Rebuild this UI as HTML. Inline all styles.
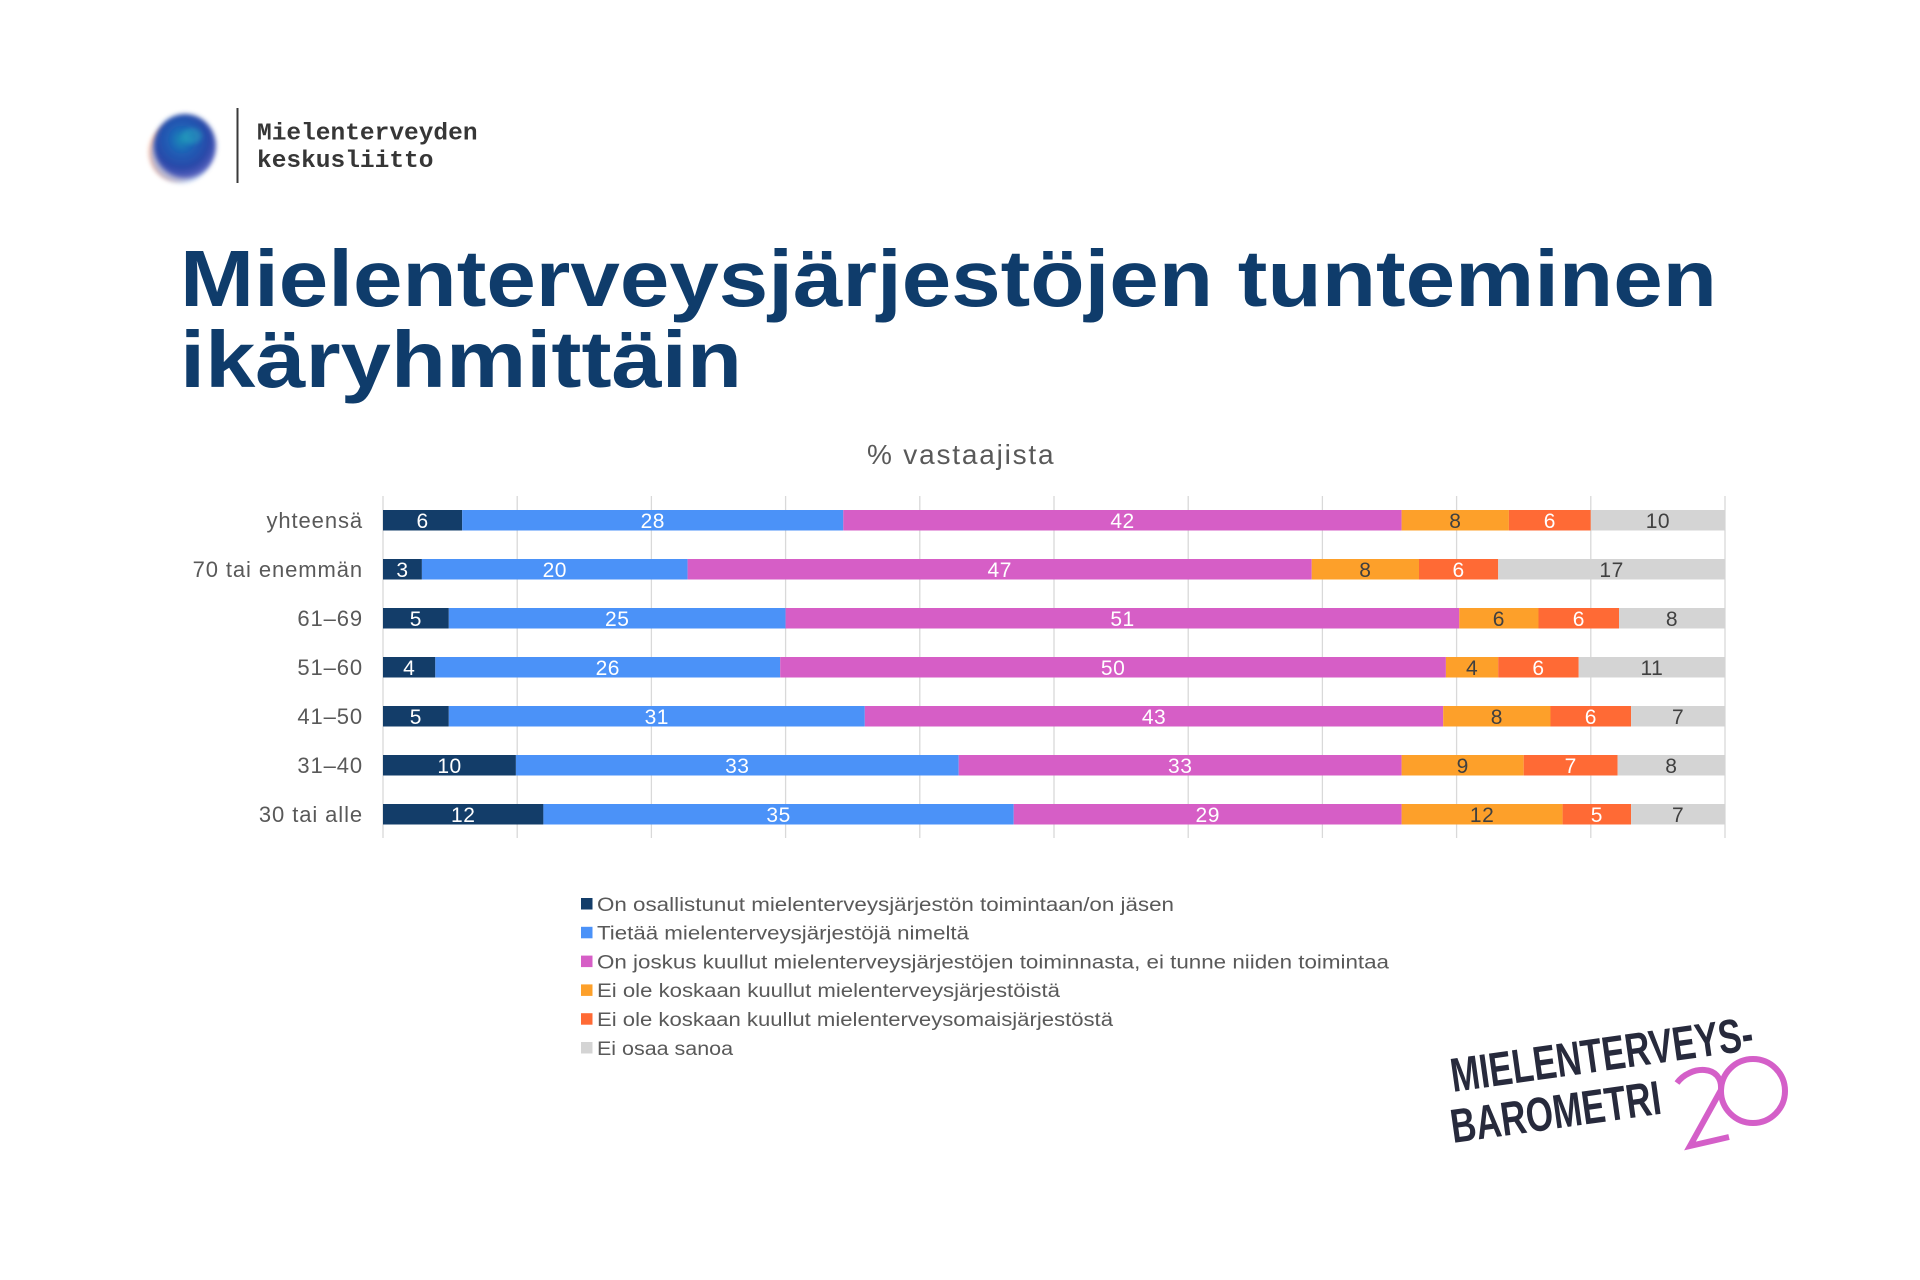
<!DOCTYPE html>
<html>
<head>
<meta charset="utf-8">
<style>
  html, body { margin: 0; padding: 0; background: #ffffff; }
  body { width: 1920px; height: 1280px; overflow: hidden; position: relative; }
  svg { position: absolute; left: 0; top: 0; }
</style>
</head>
<body>
<svg width="1920" height="1280" viewBox="0 0 1920 1280" xmlns="http://www.w3.org/2000/svg">
  <defs>
    <radialGradient id="orb" cx="45%" cy="40%" r="60%">
      <stop offset="0%" stop-color="#1d8fb8"/>
      <stop offset="35%" stop-color="#1f5fb6"/>
      <stop offset="75%" stop-color="#2a48a8"/>
      <stop offset="100%" stop-color="#5a63c0"/>
    </radialGradient>
    <filter id="soft" x="-30%" y="-30%" width="160%" height="160%">
      <feGaussianBlur stdDeviation="2.5"/>
    </filter>
  </defs>

  <!-- Top-left logo -->
  <ellipse cx="176" cy="152" rx="27" ry="29" fill="#f3a07f" opacity="0.75" filter="url(#soft)"/>
  <ellipse cx="181" cy="154" rx="30" ry="29" fill="#9bb6e6" opacity="0.7" filter="url(#soft)"/>
  <ellipse cx="185" cy="146" rx="31" ry="32" fill="url(#orb)" filter="url(#soft)"/>
  <ellipse cx="192" cy="136" rx="10" ry="8" fill="#2bb0c0" opacity="0.45" filter="url(#soft)"/>
  <rect x="236.5" y="108" width="2" height="75" fill="#3a3a3a"/>
  <text x="257" y="139.5" font-family="Liberation Mono, monospace" font-weight="bold" font-size="24.5" fill="#363636">Mielenterveyden</text>
  <text x="257" y="166.8" font-family="Liberation Mono, monospace" font-weight="bold" font-size="24.5" fill="#363636">keskusliitto</text>

  <!-- Title -->
  <text x="180" y="306" font-family="Liberation Sans, sans-serif" font-weight="bold" font-size="80" fill="#0f3c6b" textLength="1537" lengthAdjust="spacingAndGlyphs">Mielenterveysjärjestöjen tunteminen</text>
  <text x="180" y="387" font-family="Liberation Sans, sans-serif" font-weight="bold" font-size="80" fill="#0f3c6b" textLength="562" lengthAdjust="spacingAndGlyphs">ikäryhmittäin</text>

  <!-- Chart title -->
  <text x="867" y="464" font-family="Liberation Sans, sans-serif" font-size="28" fill="#595959" letter-spacing="1.8">% vastaajista</text>

  <!-- Gridlines -->
  <g stroke="#d9d9d9" stroke-width="1.3">
    <line x1="383" y1="496" x2="383" y2="838"/>
    <line x1="517.2" y1="496" x2="517.2" y2="838"/>
    <line x1="651.4" y1="496" x2="651.4" y2="838"/>
    <line x1="785.6" y1="496" x2="785.6" y2="838"/>
    <line x1="919.8" y1="496" x2="919.8" y2="838"/>
    <line x1="1054" y1="496" x2="1054" y2="838"/>
    <line x1="1188.2" y1="496" x2="1188.2" y2="838"/>
    <line x1="1322.4" y1="496" x2="1322.4" y2="838"/>
    <line x1="1456.6" y1="496" x2="1456.6" y2="838"/>
    <line x1="1590.8" y1="496" x2="1590.8" y2="838"/>
    <line x1="1725" y1="496" x2="1725" y2="838"/>
  </g>

  <!-- Category labels -->
  <g font-family="Liberation Sans, sans-serif" font-size="22" fill="#595959" text-anchor="end" letter-spacing="0.9">
    <text x="363" y="528">yhteensä</text>
    <text x="363" y="577">70 tai enemmän</text>
    <text x="363" y="626">61–69</text>
    <text x="363" y="675">51–60</text>
    <text x="363" y="724">41–50</text>
    <text x="363" y="773">31–40</text>
    <text x="363" y="822">30 tai alle</text>
  </g>

  <!-- Bars -->
  <g>
    <rect x="383" y="510" width="79.2" height="20.5" fill="#133d69"/>
    <rect x="462.2" y="510" width="381.1" height="20.5" fill="#4b92f8"/>
    <rect x="843.3" y="510" width="558.3" height="20.5" fill="#d65ec6"/>
    <rect x="1401.6" y="510" width="107.3" height="20.5" fill="#fda02a"/>
    <rect x="1508.9" y="510" width="81.9" height="20.5" fill="#ff6a35"/>
    <rect x="1590.8" y="510" width="134.2" height="20.5" fill="#d4d4d4"/>

    <rect x="383" y="559" width="38.9" height="20.5" fill="#133d69"/>
    <rect x="421.9" y="559" width="265.7" height="20.5" fill="#4b92f8"/>
    <rect x="687.6" y="559" width="624.1" height="20.5" fill="#d65ec6"/>
    <rect x="1311.7" y="559" width="107.3" height="20.5" fill="#fda02a"/>
    <rect x="1419" y="559" width="79.2" height="20.5" fill="#ff6a35"/>
    <rect x="1498.2" y="559" width="226.8" height="20.5" fill="#d4d4d4"/>

    <rect x="383" y="608" width="65.8" height="20.5" fill="#133d69"/>
    <rect x="448.8" y="608" width="336.8" height="20.5" fill="#4b92f8"/>
    <rect x="785.6" y="608" width="673.7" height="20.5" fill="#d65ec6"/>
    <rect x="1459.3" y="608" width="79.2" height="20.5" fill="#fda02a"/>
    <rect x="1538.5" y="608" width="80.5" height="20.5" fill="#ff6a35"/>
    <rect x="1619" y="608" width="106" height="20.5" fill="#d4d4d4"/>

    <rect x="383" y="657" width="52.3" height="20.5" fill="#133d69"/>
    <rect x="435.3" y="657" width="344.9" height="20.5" fill="#4b92f8"/>
    <rect x="780.2" y="657" width="665.7" height="20.5" fill="#d65ec6"/>
    <rect x="1445.9" y="657" width="52.3" height="20.5" fill="#fda02a"/>
    <rect x="1498.2" y="657" width="80.5" height="20.5" fill="#ff6a35"/>
    <rect x="1578.7" y="657" width="146.3" height="20.5" fill="#d4d4d4"/>

    <rect x="383" y="706" width="65.8" height="20.5" fill="#133d69"/>
    <rect x="448.8" y="706" width="416" height="20.5" fill="#4b92f8"/>
    <rect x="864.8" y="706" width="578.4" height="20.5" fill="#d65ec6"/>
    <rect x="1443.2" y="706" width="107.3" height="20.5" fill="#fda02a"/>
    <rect x="1550.5" y="706" width="80.6" height="20.5" fill="#ff6a35"/>
    <rect x="1631.1" y="706" width="93.9" height="20.5" fill="#d4d4d4"/>

    <rect x="383" y="755" width="132.9" height="20.5" fill="#133d69"/>
    <rect x="515.9" y="755" width="442.8" height="20.5" fill="#4b92f8"/>
    <rect x="958.7" y="755" width="442.9" height="20.5" fill="#d65ec6"/>
    <rect x="1401.6" y="755" width="122.1" height="20.5" fill="#fda02a"/>
    <rect x="1523.7" y="755" width="93.9" height="20.5" fill="#ff6a35"/>
    <rect x="1617.6" y="755" width="107.4" height="20.5" fill="#d4d4d4"/>

    <rect x="383" y="804" width="160.4" height="20.5" fill="#133d69"/>
    <rect x="543.4" y="804" width="470.3" height="20.5" fill="#4b92f8"/>
    <rect x="1013.7" y="804" width="387.9" height="20.5" fill="#d65ec6"/>
    <rect x="1401.6" y="804" width="161" height="20.5" fill="#fda02a"/>
    <rect x="1562.6" y="804" width="68.5" height="20.5" fill="#ff6a35"/>
    <rect x="1631.1" y="804" width="93.9" height="20.5" fill="#d4d4d4"/>
  </g>

  <!-- Data labels -->
  <g font-family="Liberation Sans, sans-serif" font-size="21" text-anchor="middle" letter-spacing="0.5">
    <text x="422.6" y="528" fill="#ffffff">6</text>
    <text x="652.8" y="528" fill="#ffffff">28</text>
    <text x="1122.5" y="528" fill="#ffffff">42</text>
    <text x="1455.3" y="528" fill="#404040">8</text>
    <text x="1549.9" y="528" fill="#ffffff">6</text>
    <text x="1657.9" y="528" fill="#404040">10</text>

    <text x="402.5" y="577" fill="#ffffff">3</text>
    <text x="554.8" y="577" fill="#ffffff">20</text>
    <text x="999.7" y="577" fill="#ffffff">47</text>
    <text x="1365.4" y="577" fill="#404040">8</text>
    <text x="1458.6" y="577" fill="#ffffff">6</text>
    <text x="1611.6" y="577" fill="#404040">17</text>

    <text x="415.9" y="626" fill="#ffffff">5</text>
    <text x="617.2" y="626" fill="#ffffff">25</text>
    <text x="1122.5" y="626" fill="#ffffff">51</text>
    <text x="1498.9" y="626" fill="#404040">6</text>
    <text x="1578.8" y="626" fill="#ffffff">6</text>
    <text x="1672" y="626" fill="#404040">8</text>

    <text x="409.2" y="675" fill="#ffffff">4</text>
    <text x="607.8" y="675" fill="#ffffff">26</text>
    <text x="1113.1" y="675" fill="#ffffff">50</text>
    <text x="1472.1" y="675" fill="#404040">4</text>
    <text x="1538.5" y="675" fill="#ffffff">6</text>
    <text x="1651.9" y="675" fill="#404040">11</text>

    <text x="415.9" y="724" fill="#ffffff">5</text>
    <text x="656.8" y="724" fill="#ffffff">31</text>
    <text x="1154" y="724" fill="#ffffff">43</text>
    <text x="1496.9" y="724" fill="#404040">8</text>
    <text x="1590.8" y="724" fill="#ffffff">6</text>
    <text x="1678.1" y="724" fill="#404040">7</text>

    <text x="449.5" y="773" fill="#ffffff">10</text>
    <text x="737.3" y="773" fill="#ffffff">33</text>
    <text x="1180.2" y="773" fill="#ffffff">33</text>
    <text x="1462.7" y="773" fill="#404040">9</text>
    <text x="1570.7" y="773" fill="#ffffff">7</text>
    <text x="1671.3" y="773" fill="#404040">8</text>

    <text x="463.2" y="822" fill="#ffffff">12</text>
    <text x="778.6" y="822" fill="#ffffff">35</text>
    <text x="1207.7" y="822" fill="#ffffff">29</text>
    <text x="1482.1" y="822" fill="#404040">12</text>
    <text x="1596.9" y="822" fill="#ffffff">5</text>
    <text x="1678.1" y="822" fill="#404040">7</text>
  </g>

  <!-- Legend -->
  <rect x="581" y="898" width="11.5" height="11.5" fill="#133d69"/>
  <rect x="581" y="926.8" width="11.5" height="11.5" fill="#4b92f8"/>
  <rect x="581" y="955.6" width="11.5" height="11.5" fill="#d65ec6"/>
  <rect x="581" y="984.4" width="11.5" height="11.5" fill="#fda02a"/>
  <rect x="581" y="1013.2" width="11.5" height="11.5" fill="#ff6a35"/>
  <rect x="581" y="1042" width="11.5" height="11.5" fill="#d4d4d4"/>
  <g font-family="Liberation Sans, sans-serif" font-size="19" fill="#595959">
    <text x="597" y="910.8" textLength="577" lengthAdjust="spacingAndGlyphs">On osallistunut mielenterveysjärjestön toimintaan/on jäsen</text>
    <text x="597" y="939.6" textLength="372" lengthAdjust="spacingAndGlyphs">Tietää mielenterveysjärjestöjä nimeltä</text>
    <text x="597" y="968.4" textLength="792" lengthAdjust="spacingAndGlyphs">On joskus kuullut mielenterveysjärjestöjen toiminnasta, ei tunne niiden toimintaa</text>
    <text x="597" y="997.2" textLength="463" lengthAdjust="spacingAndGlyphs">Ei ole koskaan kuullut mielenterveysjärjestöistä</text>
    <text x="597" y="1026" textLength="516" lengthAdjust="spacingAndGlyphs">Ei ole koskaan kuullut mielenterveysomaisjärjestöstä</text>
    <text x="597" y="1054.8" textLength="136" lengthAdjust="spacingAndGlyphs">Ei osaa sanoa</text>
  </g>

  <!-- Bottom-right logo -->
  <g font-family="Liberation Sans Narrow, Liberation Sans, sans-serif" font-weight="bold" font-size="48" fill="#272a3c">
    <text x="1453" y="1092" transform="rotate(-8 1453 1092)" textLength="305" lengthAdjust="spacingAndGlyphs">MIELENTERVEYS-</text>
    <text x="1453" y="1143" transform="rotate(-8 1453 1143)" textLength="212" lengthAdjust="spacingAndGlyphs">BAROMETRI</text>
  </g>
  <g fill="none" stroke="#d45fc8" stroke-width="6">
    <path d="M1677,1083 C1690,1065 1723,1064 1721,1090 L1690,1146 L1729,1137"/>
    <circle cx="1753" cy="1091" r="32"/>
  </g>
</svg>
</body>
</html>
